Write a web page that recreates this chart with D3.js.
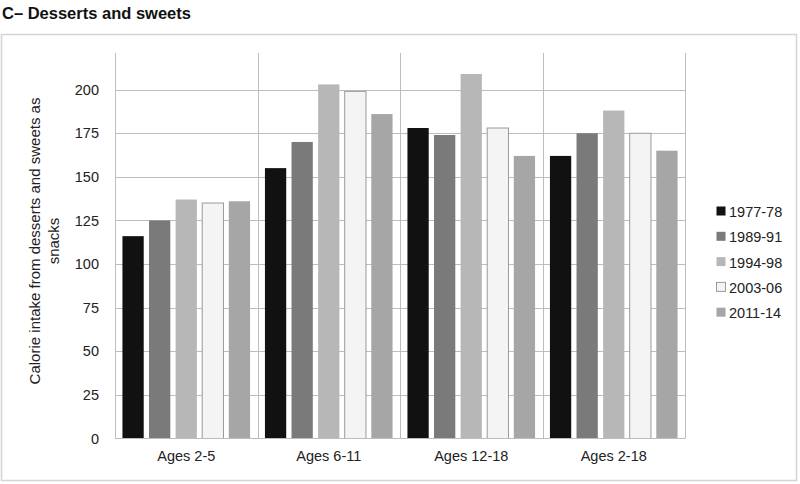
<!DOCTYPE html>
<html lang="en">
<head>
<meta charset="UTF-8">
<title>Desserts and sweets</title>
<script src="https://d3js.org/d3.v7.min.js"></script>
<style>
    body { margin: 0; background: #fff; }
    svg { display: block; }
    text { font-family: "Liberation Sans", Arial, sans-serif; fill: #222; }
</style>
</head>
<body>
<svg width="800" height="484"></svg>
<script>
// data
var groups = ['Ages 2-5', 'Ages 6-11', 'Ages 12-18', 'Ages 2-18'];
var periods = ['1977-78', '1989-91', '1994-98', '2003-06', '2011-14'];
var v1977 = [116, 155, 178, 162];
var v1989 = [125, 170, 174, 175];
var v1994 = [137, 203, 209, 188];
var v2003 = [135, 199, 178, 175];
var v2011 = [136, 186, 162, 165];
var yTicks = [0, 25, 50, 75, 100, 125, 150, 175, 200];

var series = [v1977, v1989, v1994, v2003, v2011];
var fills = ['#111111', '#7a7a7a', '#b7b7b7', '#f4f4f4', '#a6a6a6'];
var strokes = ['none', 'none', 'none', '#9a9a9a', 'none'];

var svg = d3.select('svg');
var plotLeft = 115, plotRight = 685, plotTop = 53, plotBottom = 438.5;

// outer frame
svg.append('rect')
    .attr('x', 1.5).attr('y', 34.5).attr('width', 795).attr('height', 446)
    .attr('fill', 'none').attr('stroke', '#d4d4d4').attr('stroke-width', 1.5);

svg.append('text')
    .attr('x', 2).attr('y', 19)
    .style('font-size', '16.5px').style('font-weight', 'bold')
    .style('fill', '#111')
    .text('C\u2013 Desserts and sweets');

var x0 = d3.scaleBand().domain(groups).range([plotLeft, plotRight]).padding(0);
var x1 = d3.scaleBand().domain(periods).range([0, x0.bandwidth()])
    .paddingInner(0.2).paddingOuter(0.28);
var y = d3.scaleLinear().domain([0, 221]).range([plotBottom, plotTop]);

// horizontal gridlines
svg.append('g').selectAll('line')
    .data(yTicks.slice(1))
    .enter().append('line')
    .attr('x1', plotLeft).attr('x2', plotRight)
    .attr('y1', d => Math.round(y(d)) + 0.5).attr('y2', d => Math.round(y(d)) + 0.5)
    .attr('stroke', '#bdbdbd').attr('stroke-width', 1);

// vertical group separators
var seps = groups.map(g => x0(g)).concat([plotRight]);
svg.append('g').selectAll('line')
    .data(seps)
    .enter().append('line')
    .attr('x1', d => Math.round(d) + 0.5).attr('x2', d => Math.round(d) + 0.5)
    .attr('y1', plotTop).attr('y2', plotBottom)
    .attr('stroke', '#bdbdbd').attr('stroke-width', 1);

// bars
series.forEach((vals, si) => {
    svg.append('g').selectAll('rect')
        .data(vals)
        .enter().append('rect')
        .attr('x', (d, i) => x0(groups[i]) + x1(periods[si]))
        .attr('width', x1.bandwidth())
        .attr('y', d => y(d))
        .attr('height', d => y(0) - y(d))
        .attr('fill', fills[si])
        .attr('stroke', strokes[si])
        .attr('stroke-width', 1);
});

// baseline
svg.append('line')
    .attr('x1', plotLeft).attr('x2', plotRight)
    .attr('y1', plotBottom).attr('y2', plotBottom)
    .attr('stroke', '#bdbdbd');

// y axis
var yAxis = svg.append('g')
    .attr('transform', 'translate(' + plotLeft + ',0)')
    .call(d3.axisLeft(y).tickValues(yTicks).tickSize(0).tickPadding(16));
yAxis.select('.domain').remove();
yAxis.selectAll('text').style('font-size', '14.5px').style('fill', '#222')
    .style('font-family', '"Liberation Sans", Arial, sans-serif');

// x axis labels
var xAxis = svg.append('g')
    .attr('transform', 'translate(0,' + plotBottom + ')')
    .call(d3.axisBottom(x0).tickSize(0).tickPadding(12));
xAxis.select('.domain').remove();
xAxis.selectAll('text').style('font-size', '14.5px').style('fill', '#222')
    .style('font-family', '"Liberation Sans", Arial, sans-serif');

// y title
var yt = svg.append('text')
    .attr('transform', 'translate(40,241) rotate(-90)')
    .attr('text-anchor', 'middle')
    .style('font-size', '15px');
yt.append('tspan').attr('x', 0).attr('dy', 0).text('Calorie intake from desserts and sweets as');
yt.append('tspan').attr('x', 0).attr('dy', 19).text('snacks');

// legend
var legend = svg.append('g').selectAll('g')
    .data(periods)
    .enter().append('g')
    .attr('transform', (d, i) => 'translate(716,' + (212 + i * 25.3) + ')');
legend.append('rect')
    .attr('x', 0.5).attr('y', -5.5).attr('width', 9).attr('height', 9)
    .attr('fill', (d, i) => fills[i])
    .attr('stroke', (d, i) => strokes[i]);
legend.append('text')
    .attr('x', 13).attr('y', 5)
    .style('font-size', '14.5px')
    .text(d => d);
</script>
</body>
</html>
